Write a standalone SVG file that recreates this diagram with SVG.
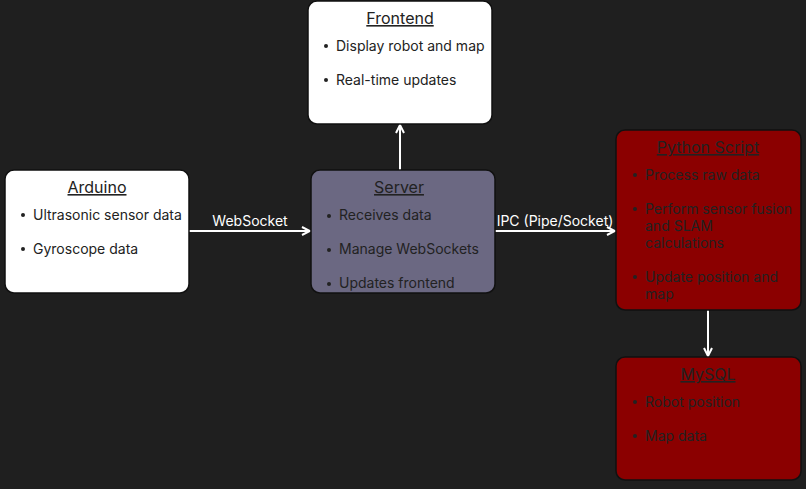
<svg xmlns="http://www.w3.org/2000/svg" width="806" height="489" viewBox="0 0 806 489">
<style>
.box{stroke:#111;stroke-width:1.5}
.w{fill:#ffffff}
.s{fill:#6b6882}
.r{fill:#8b0000}
text{font-family:Inter,"Noto Sans","Liberation Sans",sans-serif;font-size:14px;fill:#222}
.t{text-anchor:middle;font-size:16px;text-decoration:underline}
.lbl{fill:#ffffff;text-anchor:middle}
.c{stroke:#ffffff;stroke-width:2;fill:none}
</style>
<defs>
<marker id="a" viewBox="0 0 10 10" refX="9" refY="5" markerWidth="10" markerHeight="10" markerUnits="userSpaceOnUse" orient="auto">
<path d="M1,1 L9,5 L1,9" fill="none" stroke="#ffffff" stroke-width="2"/>
</marker>
</defs>
<rect width="806" height="489" fill="#1f1f1f"/>
<g id="connectors">
<line class="c" x1="189" y1="231" x2="310" y2="231" marker-end="url(#a)"/>
<text class="lbl" x="250" y="226">WebSocket</text>
<line class="c" x1="495" y1="231" x2="615" y2="231" marker-end="url(#a)"/>
<text class="lbl" x="555" y="226">IPC (Pipe/Socket)</text>
<line class="c" x1="400" y1="170" x2="400" y2="125" marker-end="url(#a)"/>
<line class="c" x1="708" y1="310" x2="708" y2="356" marker-end="url(#a)"/>
</g>
<g id="frontend">
<rect class="box w" x="308" y="1" width="184" height="123" rx="9"/>
<text class="t" x="400" y="24">Frontend</text>
<circle cx="326" cy="46" r="2" fill="#222"/><text x="336" y="51">Display robot and map</text>
<circle cx="326" cy="80" r="2" fill="#222"/><text x="336" y="85">Real-time updates</text>
</g>
<g id="arduino">
<rect class="box w" x="5" y="170" width="184" height="123" rx="9"/>
<text class="t" x="97" y="193">Arduino</text>
<circle cx="23" cy="215" r="2" fill="#222"/><text x="33" y="220">Ultrasonic sensor data</text>
<circle cx="23" cy="249" r="2" fill="#222"/><text x="33" y="254">Gyroscope data</text>
</g>
<g id="server">
<rect class="box s" x="311" y="170" width="184" height="123" rx="9"/>
<text class="t" x="399" y="193">Server</text>
<circle cx="329" cy="216" r="2" fill="#222"/><text x="339" y="220">Receives data</text>
<circle cx="329" cy="250" r="2" fill="#222"/><text x="339" y="254">Manage WebSockets</text>
<circle cx="329" cy="284" r="2" fill="#222"/><text x="339" y="288">Updates frontend</text>
</g>
<g id="python">
<rect class="box r" x="616" y="130" width="185" height="180" rx="9"/>
<text class="t" x="708" y="153">Python Script</text>
<circle cx="635" cy="175" r="2" fill="#222"/><text x="645" y="180">Process raw data</text>
<circle cx="635" cy="209" r="2" fill="#222"/><text x="645" y="214">Perform sensor fusion</text>
<text x="645" y="231">and SLAM</text>
<text x="645" y="248">calculations</text>
<circle cx="635" cy="277" r="2" fill="#222"/><text x="645" y="282">Update position and</text>
<text x="645" y="299">map</text>
</g>
<g id="mysql">
<rect class="box r" x="616" y="357" width="185" height="123" rx="9"/>
<text class="t" x="708" y="380">MySQL</text>
<circle cx="635" cy="402" r="2" fill="#222"/><text x="645" y="407">Robot position</text>
<circle cx="635" cy="436" r="2" fill="#222"/><text x="645" y="441">Map data</text>
</g>
</svg>
